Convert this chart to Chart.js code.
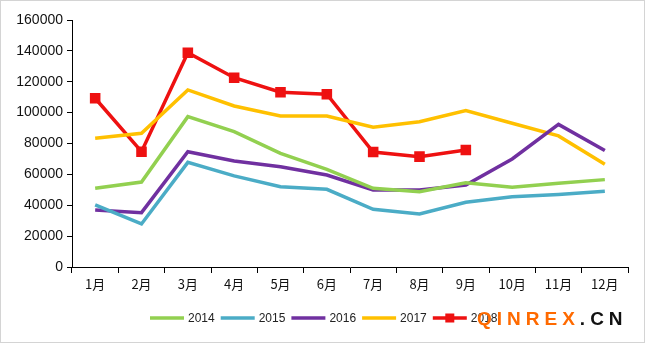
<!DOCTYPE html>
<html>
<head>
<meta charset="utf-8">
<script src="https://cdn.jsdelivr.net/npm/chart.js@4"></script>
<style>
  body { margin: 0; background: #fff; }
  .wrap { position: relative; width: 645px; height: 343px; }
  .mark { position: absolute; left: 477px; top: 308px; font: bold 19px "Liberation Sans", Arial, sans-serif; letter-spacing: 5px; color: #ff6a00; white-space: nowrap; }
  .mark span { color: #111; }
</style>
</head>
<body>
<div class="wrap">
  <canvas id="chart" width="645" height="343"></canvas>
  <div class="mark">QINREX<span>.CN</span></div>
</div>
<script>
// months along the x axis
const months = ['1月', '2月', '3月', '4月', '5月', '6月', '7月', '8月', '9月', '10月', '11月', '12月'];
const yTicks = [0, 20000, 40000, 60000, 80000, 100000, 120000, 140000, 160000];

// values
const y2014 = [51000, 55000, 97400, 87700, 73600, 63300, 51000, 48800, 54600, 51600, 54200, 56600];
const y2015 = [40200, 27900, 67800, 59000, 52000, 50300, 37400, 34300, 41900, 45500, 47000, 49000];
const y2016 = [36900, 35200, 74700, 68700, 65000, 59600, 49900, 49900, 53100, 70000, 92400, 75400];
const y2017 = [83400, 86600, 114700, 104300, 97800, 97800, 90500, 94100, 101300, 93100, 84900, 66500];
const y2018 = [109300, 74700, 138800, 122600, 113200, 111900, 74500, 71500, 75800];

const series = [
    { label: '2014', data: y2014, color: '#92d050' },
    { label: '2015', data: y2015, color: '#4bacc6' },
    { label: '2016', data: y2016, color: '#7030a0' },
    { label: '2017', data: y2017, color: '#ffc000' },
    { label: '2018', data: y2018, color: '#ee1111', marker: true }
];

// hand drawn legend + border, the built-in one can't be placed like the original
const legendPlugin = {
    id: 'bottomLegend',
    afterDraw(chart) {
        const ctx = chart.ctx;
        ctx.save();
        let x = 150;
        const y = 318;
        ctx.font = '12px "Liberation Sans", Arial, sans-serif';
        ctx.textBaseline = 'middle';
        chart.data.datasets.forEach((ds, i) => {
            ctx.strokeStyle = ds.borderColor;
            ctx.lineWidth = 3.5;
            ctx.beginPath();
            ctx.moveTo(x, y);
            ctx.lineTo(x + 34, y);
            ctx.stroke();
            if (series[i].marker) {
                ctx.fillStyle = ds.borderColor;
                ctx.fillRect(x + 12.5, y - 4.5, 9, 9);
            }
            ctx.fillStyle = '#222';
            ctx.fillText(ds.label, x + 38, y + 1);
            x += 70.7;
        });
        ctx.strokeStyle = '#d4d4d4';
        ctx.lineWidth = 1;
        ctx.strokeRect(0.5, 0.5, chart.width - 1, chart.height - 1);
        ctx.restore();
    }
};

new Chart(document.getElementById('chart'), {
    type: 'line',
    data: {
        labels: months,
        datasets: series.map(s => ({
            label: s.label,
            data: s.data,
            borderColor: s.color,
            backgroundColor: s.color,
            borderWidth: 3.5,
            pointRadius: s.marker ? 5 : 0,
            pointStyle: 'rect',
            tension: 0
        }))
    },
    options: {
        responsive: false,
        animation: false,
        layout: { padding: { top: 20, right: 17, left: 0, bottom: 0 } },
        plugins: {
            legend: { display: false },
            tooltip: { enabled: false }
        },
        scales: {
            x: {
                offset: true,
                grid: { drawOnChartArea: false, color: '#000', tickLength: 6, offset: true },
                border: { color: '#000', width: 1 },
                ticks: { color: '#111', padding: 3, font: { size: 13, family: '"Noto Sans CJK SC", "Liberation Sans", sans-serif' } },
                afterFit(scale) { scale.height = 76; }
            },
            y: {
                min: 0,
                max: 160000,
                afterBuildTicks(scale) { scale.ticks = yTicks.map(v => ({ value: v })); },
                grid: { drawOnChartArea: false, color: '#000', tickLength: 5 },
                border: { color: '#000', width: 1 },
                ticks: {
                    color: '#111', padding: 4,
                    font: { size: 14, family: '"Liberation Sans", Arial, sans-serif' },
                    callback: v => String(v)
                },
                afterFit(scale) { scale.width = 72; }
            }
        }
    },
    plugins: [legendPlugin]
});
</script>
</body>
</html>
